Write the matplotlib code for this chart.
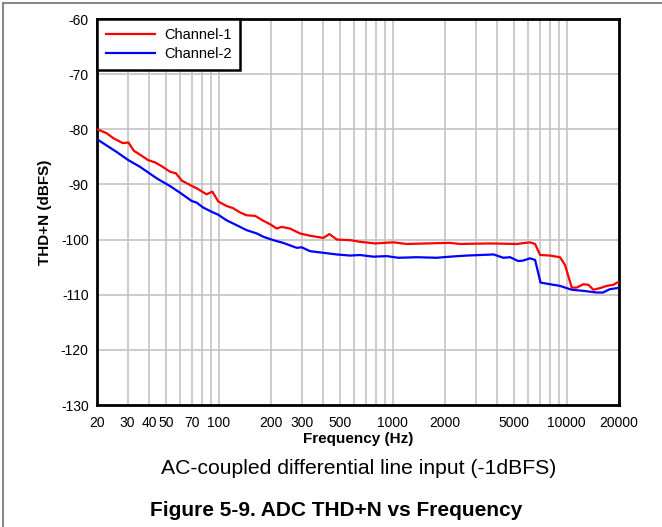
import matplotlib
matplotlib.use("Agg")
import matplotlib.pyplot as plt
from matplotlib.lines import Line2D
from matplotlib.ticker import FixedLocator, LogLocator, NullFormatter

plt.rcParams['font.family'] = ['Liberation Sans', 'DejaVu Sans']
plt.rcParams['axes.unicode_minus'] = False

# Channel-1 (red) THD+N vs frequency
ch1_freq = [20, 22.7, 24.8, 28.1, 30.3, 32.6, 36.1, 39.4, 43.1, 47.1, 52.6, 56.9,
            61.4, 68.5, 74.8, 85.3, 92, 99.6, 111, 121, 133, 145, 162, 181, 197,
            216, 230, 257, 294, 335, 400, 433, 478, 569, 649, 792, 1010, 1205,
            1571, 2138, 2440, 3630, 5170, 6160, 6590, 7040, 8030, 9160, 9790,
            10700, 11440, 12480, 13340, 14240, 15560, 16990, 18580, 20000]
ch1_db = [-80.0, -80.7, -81.6, -82.5, -82.4, -83.9, -84.8, -85.6, -86.0, -86.7,
          -87.7, -88.0, -89.3, -90.1, -90.7, -91.8, -91.3, -93.1, -93.9, -94.3,
          -95.1, -95.6, -95.7, -96.6, -97.2, -98.0, -97.7, -98.0, -98.9, -99.3,
          -99.7, -99.0, -100.0, -100.1, -100.4, -100.7, -100.5, -100.8, -100.7,
          -100.6, -100.8, -100.7, -100.8, -100.5, -100.8, -102.8, -102.9, -103.2,
          -104.6, -108.7, -108.7, -108.1, -108.2, -109.1, -108.8, -108.4, -108.2,
          -107.6]

# Channel-2 (blue)
ch2_freq = [20, 25.9, 30.3, 35.3, 44.1, 52.6, 60, 70, 74.8, 81.6, 93.2, 99.6,
            111, 127, 145, 166, 181, 206, 235, 281, 300, 335, 400, 478, 569, 649,
            774, 925, 1079, 1375, 1791, 2138, 2667, 3800, 4330, 4730, 5280, 5640,
            6160, 6590, 7080, 8030, 9160, 10700, 12480, 14830, 16190, 17700,
            19500, 20000]
ch2_db = [-81.8, -84.1, -85.6, -86.8, -88.9, -90.3, -91.5, -93.0, -93.3, -94.2,
          -95.1, -95.5, -96.5, -97.4, -98.3, -98.9, -99.5, -100.1, -100.6, -101.5,
          -101.4, -102.1, -102.4, -102.7, -102.9, -102.8, -103.1, -103.0, -103.3,
          -103.2, -103.3, -103.1, -102.9, -102.7, -103.3, -103.2, -103.9, -103.8,
          -103.4, -103.7, -107.8, -108.1, -108.4, -109.1, -109.3, -109.6, -109.6,
          -109.0, -108.8, -108.7]

xtick_vals = [20, 30, 40, 50, 70, 100, 200, 300, 500, 1000, 2000, 5000, 10000, 20000]
ytick_vals = [-60, -70, -80, -90, -100, -110, -120, -130]

fig = plt.figure(figsize=(6.62, 5.27), dpi=100)
ax = fig.add_axes([97 / 662, 1 - 405 / 527, 522 / 662, 386 / 527])

ax.plot(ch1_freq, ch1_db, color="#ff0000", lw=1.6, label="Channel-1", zorder=3)
ax.plot(ch2_freq, ch2_db, color="#0000ff", lw=1.6, label="Channel-2", zorder=3)

ax.set_xscale("log")
ax.set_xlim(20, 20000)
ax.set_ylim(-130, -60)

ax.xaxis.set_major_locator(FixedLocator(xtick_vals))
ax.xaxis.set_ticklabels([str(v) for v in xtick_vals])
ax.xaxis.set_minor_locator(LogLocator(base=10, subs=range(1, 10)))
ax.xaxis.set_minor_formatter(NullFormatter())
ax.yaxis.set_major_locator(FixedLocator(ytick_vals))

ax.grid(True, which="both", axis="x", color="#c4c4c4", lw=1.2)
ax.grid(True, which="major", axis="y", color="#c4c4c4", lw=1.2)
ax.tick_params(which="both", length=0, labelsize=10, colors="black")
ax.tick_params(axis="x", pad=8)
ax.tick_params(axis="y", pad=6)

for s in ax.spines.values():
    s.set_linewidth(2)
    s.set_color("black")

ax.set_xlabel("Frequency (Hz)", fontsize=11, fontweight="bold", labelpad=1)
ax.set_ylabel("THD+N (dBFS)", fontsize=11, fontweight="bold", labelpad=6)

leg = ax.legend(loc="upper left", fontsize=10.5, frameon=True, fancybox=False,
                borderaxespad=0, handlelength=3.4, handletextpad=0.6,
                borderpad=0.6, labelspacing=0.35)
leg.get_frame().set_edgecolor("black")
leg.get_frame().set_linewidth(1.8)
leg.get_frame().set_alpha(1)

fig.text(359 / 662, 1 - 468 / 527, "AC-coupled differential line input (-1dBFS)",
         ha="center", va="center", fontsize=15.2)
fig.text(336 / 662, 1 - 511 / 527, "Figure 5-9. ADC THD+N vs Frequency",
         ha="center", va="center", fontsize=15, fontweight="bold")

# outer frame (top and left edges only visible)
fig.add_artist(Line2D([3 / 662, 1], [1 - 3 / 527, 1 - 3 / 527], transform=fig.transFigure,
                      color="#888888", lw=1.5))
fig.add_artist(Line2D([3 / 662, 3 / 662], [0, 1 - 3 / 527], transform=fig.transFigure,
                      color="#888888", lw=1.5))

fig.savefig("out.png", dpi=100)
